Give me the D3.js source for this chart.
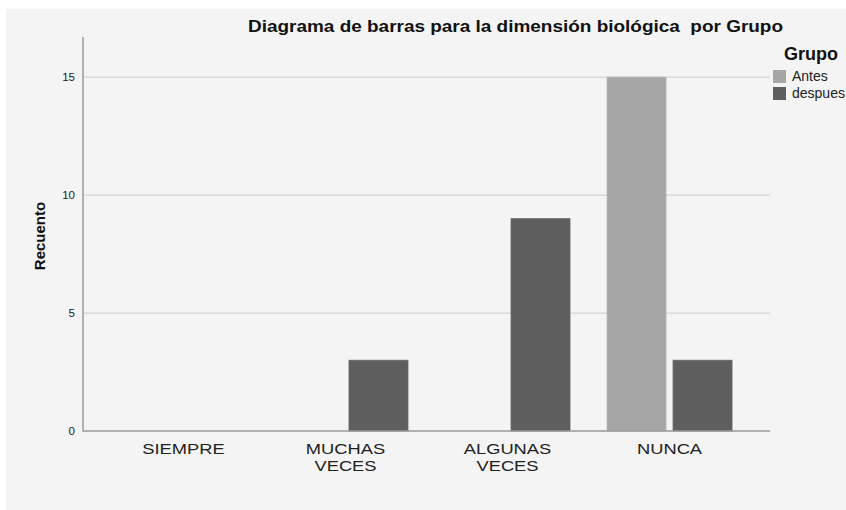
<!DOCTYPE html>
<html><head><meta charset="utf-8">
<script src="https://cdn.jsdelivr.net/npm/d3@7"></script>
<style>html,body{margin:0;padding:0;background:#fff;}svg{display:block;font-family:"Liberation Sans",Arial,sans-serif;}</style>
</head><body>
<script>
const categories = ["SIEMPRE", "MUCHAS\nVECES", "ALGUNAS\nVECES", "NUNCA"];
const groups = ["Antes", "despues"];
const antesValues = [0, 0, 0, 15];
const despuesValues = [0, 3, 9, 3];
const yTicks = [0, 5, 10, 15];
const colors = ["#a6a6a6", "#5e5e5e"];
const title = "Diagrama de barras para la dimensión biológica  por Grupo";

(function () {
const W = 846, H = 510;
const svg = d3.select("body").append("svg").attr("width", W).attr("height", H);
svg.append("rect").attr("x", 6).attr("y", 9).attr("width", W - 6).attr("height", H - 9).attr("fill", "#f4f4f4");

const pLeft = 83, pRight = 770, pTop = 37, pBottom = 431;
const y = d3.scaleLinear().domain([0, 16.7]).range([pBottom, pTop]);
const x = d3.scaleBand().domain(categories).range([pLeft, pRight]).paddingOuter(0.12).paddingInner(0);
const x1 = d3.scaleBand().domain(groups).range([-62.5, 62.5]).paddingInner(0.106);
const color = d3.scaleOrdinal().domain(groups).range(colors);

// gridlines
svg.append("g").selectAll("line").data(yTicks.filter(d => d > 0)).join("line")
  .attr("x1", pLeft + 1).attr("x2", pRight).attr("y1", d => y(d)).attr("y2", d => y(d))
  .attr("stroke", "#d4d4d4").attr("stroke-width", 1.2);

// bars
const rows = categories.map((c, i) => ({ c, vals: [antesValues[i], despuesValues[i]] }));
const barG = svg.append("g");
rows.forEach(r => {
  groups.forEach((g, j) => {
    const v = r.vals[j];
    if (v <= 0) return;
    const cx = x(r.c) + x.bandwidth() / 2;
    barG.append("rect")
      .attr("x", cx + x1(g)).attr("width", x1.bandwidth())
      .attr("y", y(v)).attr("height", y(0) - y(v))
      .attr("fill", color(g)).attr("stroke", d3.color(color(g)).brighter(0.25)).attr("stroke-width", 0.8);
  });
});

// y axis
const yAxis = d3.axisLeft(y).tickValues(yTicks).tickSize(0).tickPadding(8).tickFormat(d3.format("d"));
const ya = svg.append("g").attr("transform", `translate(${pLeft},0)`).call(yAxis);
ya.select(".domain").remove();
ya.selectAll("text").attr("font-size", 11.5).attr("fill", "#222").attr("font-family", "Liberation Sans, Arial, sans-serif");
svg.append("line").attr("x1", pLeft).attr("x2", pLeft).attr("y1", pTop).attr("y2", pBottom + 0.5).attr("stroke", "#8a8a8a").attr("stroke-width", 1.3);

// x axis
const xAxis = d3.axisBottom(x).tickSize(0).tickFormat("");
const xa = svg.append("g").attr("transform", `translate(0,${pBottom})`).call(xAxis);
xa.select(".domain").remove();
svg.append("line").attr("x1", pLeft).attr("x2", pRight).attr("y1", pBottom).attr("y2", pBottom).attr("stroke", "#9a9a9a").attr("stroke-width", 1.3);
xa.selectAll(".tick").each(function(d) {
  const lines = d.split("\n");
  lines.forEach((ln, k) => d3.select(this).append("text").attr("text-anchor", "middle").attr("fill", "#222")
    .attr("transform", `translate(0,${23 + k * 17}) scale(1.22,1)`)
    .attr("font-size", 15).attr("font-family", "Liberation Sans, Arial, sans-serif").text(ln));
});

// y label
svg.append("text").attr("transform", "translate(45,236) rotate(-90)").attr("text-anchor", "middle")
  .attr("font-size", 15).attr("font-weight", "bold").attr("fill", "#111").text("Recuento");

// title
svg.append("text").attr("x", 248).attr("y", 32)
  .attr("font-size", 16.5).attr("font-weight", "bold").attr("fill", "#111")
  .style("white-space", "pre")
  .attr("textLength", 535).attr("lengthAdjust", "spacingAndGlyphs").text(title);

// legend
svg.append("text").attr("x", 784).attr("y", 60).attr("font-size", 18).attr("font-weight", "bold").attr("fill", "#111").text("Grupo");
const lg = svg.append("g").selectAll("g").data(groups).join("g")
  .attr("transform", (d, i) => `translate(773,${70 + i * 17})`);
lg.append("rect").attr("width", 13).attr("height", 13).attr("fill", d => color(d));
lg.append("text").attr("x", 19).attr("y", 11).attr("font-size", 14).attr("fill", "#222").text(d => d);
})();
</script>
</body></html>
